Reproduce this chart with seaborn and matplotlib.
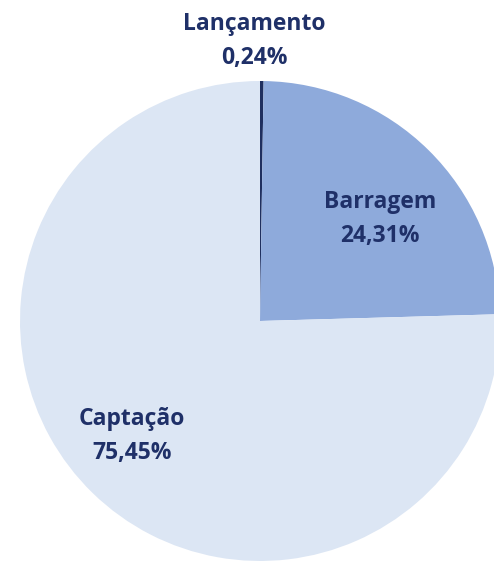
import matplotlib
matplotlib.use("Agg")
import matplotlib.pyplot as plt
import seaborn as sns

# dados
categorias = ["Lançamento", "Barragem", "Captação"]
valores = [0.24, 24.31, 75.45]
rotulos = ["0,24%", "24,31%", "75,45%"]
cores = ["#1f2f5f", "#8eaadb", "#dce6f4"]

sns.set_theme(style="white")
plt.rcParams['font.family'] = ['Open Sans', 'DejaVu Sans']

fig = plt.figure(figsize=(4.94, 5.61), dpi=100)
ax = fig.add_axes([0, 0, 1, 1])

ax.pie(valores, colors=cores, startangle=90, counterclock=False,
       radius=1, center=(0, 0), wedgeprops={"linewidth": 0})

# posições dos rótulos
pos = [(-0.025, 1.165), (0.5, 0.425), (-0.533, -0.479)]
for cat, rot, (x, y) in zip(categorias, rotulos, pos):
    ax.text(x, y, f"{cat}\n{rot}", ha="center", va="center",
            fontsize=16.5, fontweight="bold", color="#1f3068", linespacing=1.55)

ax.set_xlim(-260 / 240, 234 / 240)
ax.set_ylim(-1.0, 321 / 240)
ax.set_aspect("auto")
ax.axis("off")

fig.savefig("out.png", dpi=100)
